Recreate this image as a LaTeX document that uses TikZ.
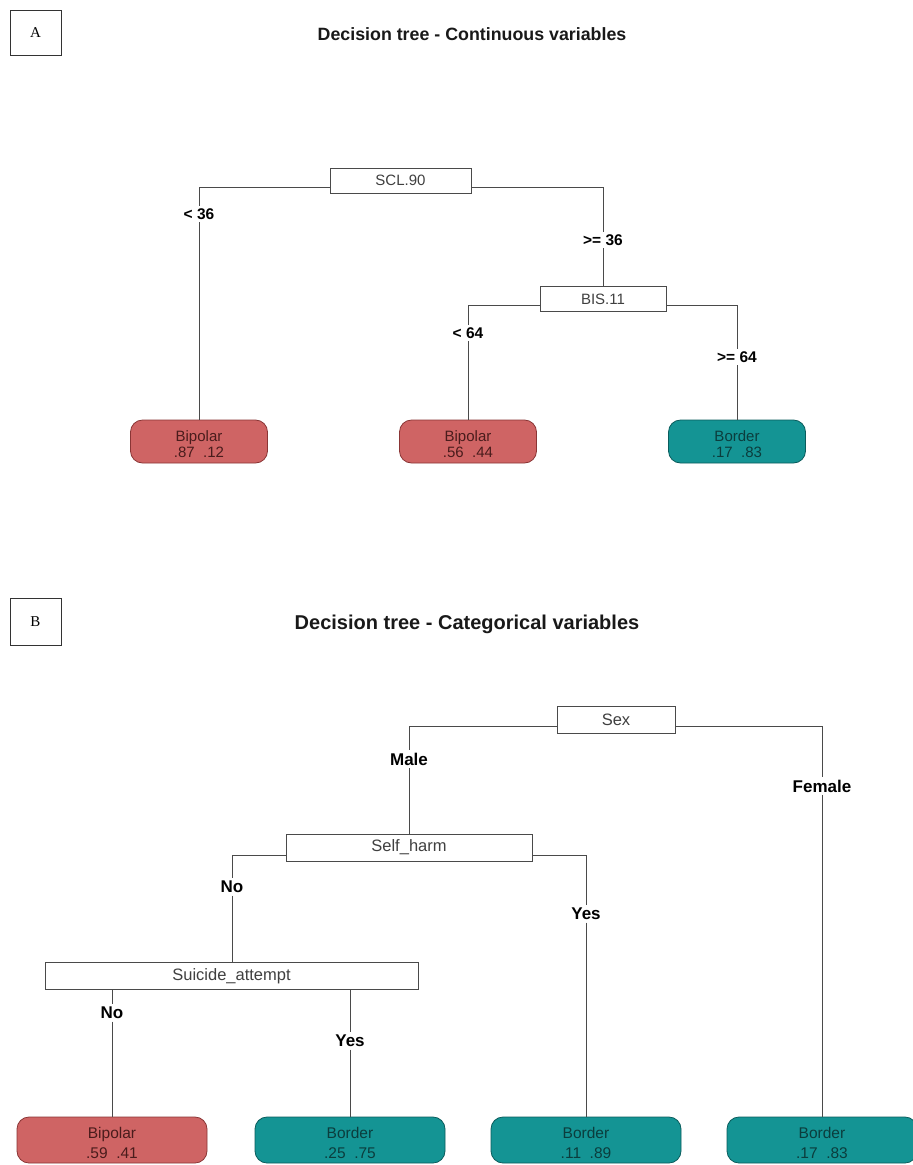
\documentclass[tikz,border=0pt]{standalone}
\usepackage{fontspec}
\setmainfont{Liberation Sans}
\newfontfamily\lblserif{Liberation Serif}
\usetikzlibrary{calc}
\definecolor{leafred}{HTML}{CF6464}
\definecolor{leafredline}{HTML}{8A3535}
\definecolor{leafredtext}{HTML}{4A1C1C}
\definecolor{leafteal}{HTML}{149494}
\definecolor{leaftealline}{HTML}{0A5C5C}
\definecolor{leaftealtext}{HTML}{0B3D3D}
\definecolor{edgegray}{HTML}{4A4A4A}
\newcommand{\lstrut}{\rule{0pt}{17pt}}
\begin{document}
\begin{tikzpicture}[x=1pt,y=-1pt,
  panelbox/.style={draw=black!80, line width=0.9pt, minimum width=51pt, minimum height=45pt, inner sep=0pt, font=\lblserif\fontsize{15}{18}\selectfont},
  treetitle/.style={font=\bfseries\fontsize{17.8}{20}\selectfont, text=black!90},
  split/.style={draw=edgegray, fill=white, line width=0.8pt, inner sep=0pt, minimum height=25pt, font=\fontsize{15}{18}\selectfont, text=black!75},
  splitB/.style={split, minimum height=27pt, font=\fontsize{16.5}{19}\selectfont},
  condA/.style={fill=white, inner sep=2.5pt, font=\bfseries\fontsize{15.5}{18}\selectfont},
  condB/.style={fill=white, inner sep=2.5pt, font=\bfseries\fontsize{17}{20}\selectfont},
  conn/.style={draw=edgegray, line width=0.8pt},
  leafbase/.style={rounded corners=12pt, line width=0.8pt, align=center, inner sep=0pt},
  leafA/.style={leafbase, minimum width=137pt, minimum height=43pt, font=\fontsize{15}{16}\selectfont},
  leafB/.style={leafbase, minimum width=190pt, minimum height=46pt, font=\fontsize{15.5}{19.5}\selectfont},
  redleaf/.style={draw=leafredline, fill=leafred, text=leafredtext},
  tealleaf/.style={draw=leaftealline, fill=leafteal, text=leaftealtext}
]
\useasboundingbox[fill=white] (0,0) rectangle (913,1165);

% ---------------- Panel A ----------------
\node[panelbox] (pA) at (35.5,32.5) {A};
\node[treetitle] (tA) at (472,34) {Decision tree - Continuous variables};

\node[split, minimum width=141pt] (scl) at (400.5,180.5) {SCL.90};
\node[split, minimum width=126pt] (bis) at (603,299) {BIS.11};

\node[leafA, redleaf]  (a1) at (199,441.5) {\lstrut Bipolar\\.87\ \ .12};
\node[leafA, redleaf]  (a2) at (468,441.5) {\lstrut Bipolar\\.56\ \ .44};
\node[leafA, tealleaf] (a3) at (737,441.5) {\lstrut Border\\.17\ \ .83};

\node[condA] (ca1) at (199,214) {< 36};
\node[condA] (ca2) at (603,240) {>= 36};
\node[condA] (ca3) at (468,333) {< 64};
\node[condA] (ca4) at (737,357) {>= 64};

\draw[conn] ([yshift=-6.5pt]scl.west) -| (ca1);
\draw[conn] (ca1) -- (ca1 |- a1.north);
\draw[conn] ([yshift=-6.5pt]scl.east) -| (ca2);
\draw[conn] (ca2) -- (ca2 |- bis.north);
\draw[conn] ([yshift=-6pt]bis.west) -| (ca3);
\draw[conn] (ca3) -- (ca3 |- a2.north);
\draw[conn] ([yshift=-6pt]bis.east) -| (ca4);
\draw[conn] (ca4) -- (ca4 |- a3.north);

% ---------------- Panel B ----------------
\node[panelbox, minimum height=47pt] (pB) at (35.5,621.5) {B};
\node[treetitle, font=\bfseries\fontsize{20}{23}\selectfont] (tB) at (467,624) {Decision tree - Categorical variables};

\node[splitB, minimum width=118pt] (sex) at (616,719.5) {Sex};
\node[splitB, minimum width=246pt] (self) at (409,847.5) {Self\_harm};
\node[splitB, minimum width=373pt] (sui) at (231.5,976) {Suicide\_attempt};

\node[leafB, redleaf]  (b1) at (112,1140) {\lstrut Bipolar\\.59\ \ .41};
\node[leafB, tealleaf] (b2) at (350,1140) {\lstrut Border\\.25\ \ .75};
\node[leafB, tealleaf] (b3) at (586,1140) {\lstrut Border\\.11\ \ .89};
\node[leafB, tealleaf] (b4) at (822,1140) {\lstrut Border\\.17\ \ .83};

\node[condB] (cb1) at (409,759) {Male};
\node[condB] (cb2) at (822,786) {Female};
\node[condB] (cb3) at (232,887) {No};
\node[condB] (cb4) at (586,914) {Yes};
\node[condB] (cb5) at (112,1013) {No};
\node[condB] (cb6) at (350,1041) {Yes};

\draw[conn] ([yshift=-7pt]sex.west) -| (cb1);
\draw[conn] (cb1) -- (cb1 |- self.north);
\draw[conn] ([yshift=-7pt]sex.east) -| (cb2);
\draw[conn] (cb2) -- (cb2 |- b4.north);
\draw[conn] ([yshift=-7.5pt]self.west) -| (cb3);
\draw[conn] (cb3) -- (cb3 |- sui.north);
\draw[conn] ([yshift=-7.5pt]self.east) -| (cb4);
\draw[conn] (cb4) -- (cb4 |- b3.north);
\draw[conn] (cb5 |- sui.south) -- (cb5);
\draw[conn] (cb5) -- (cb5 |- b1.north);
\draw[conn] (cb6 |- sui.south) -- (cb6);
\draw[conn] (cb6) -- (cb6 |- b2.north);
\end{tikzpicture}
\end{document}
